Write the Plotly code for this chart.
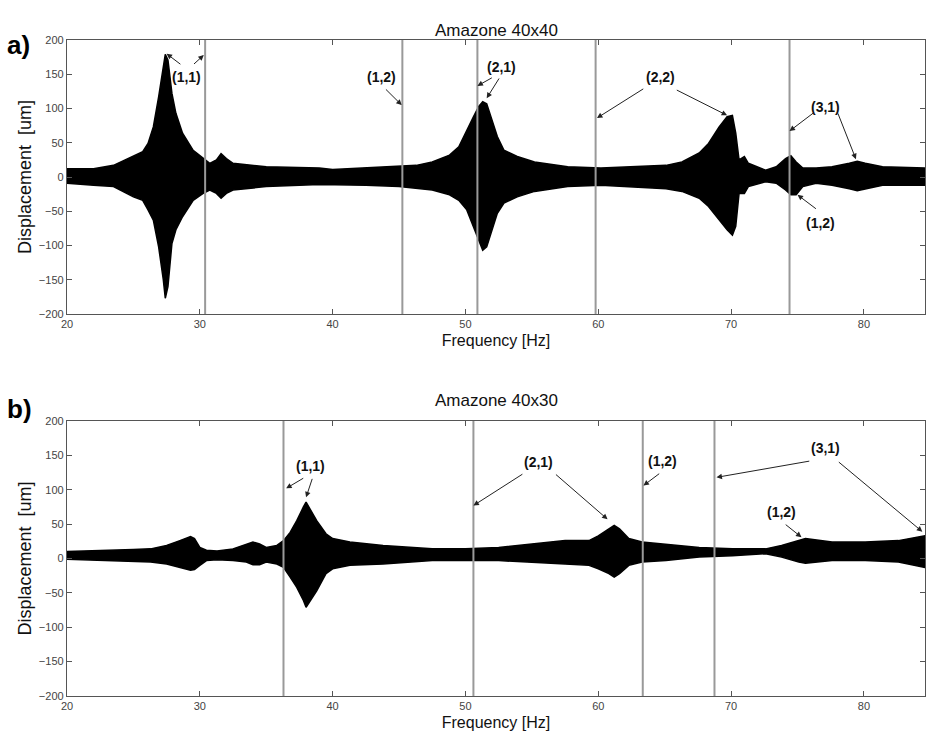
import plotly.graph_objects as go

# ---------------- data ----------------
# Panel a) Amazone 40x40 : envelope of the response (upper / lower), um
freq_a = [20.0, 22.0, 23.5, 25.0, 25.7, 26.1, 26.5, 26.9, 27.25, 27.4, 27.6, 27.9, 28.2, 28.7,
          29.5, 30.25, 30.75, 31.25, 31.6, 32.0, 32.5, 35.0, 39.0, 40.0, 42.5, 45.0, 46.3, 47.5,
          48.8, 49.5, 50.1, 50.6, 51.0, 51.3, 51.6, 52.0, 52.4, 52.9, 53.9, 55.2, 57.7, 60.2,
          62.6, 65.1, 66.3, 67.6, 68.3, 69.1, 69.7, 70.1, 70.35, 70.6, 71.0, 71.3, 72.6, 73.4,
          74.1, 74.5, 74.9, 75.4, 76.4, 77.6, 78.9, 79.5, 80.1, 81.4, 84.6]
upper_a = [12, 12, 17, 30, 37, 49, 73, 117, 161, 179, 171, 122, 93, 64,
           39, 27, 20, 25, 34, 27, 20, 15, 13, 11, 13, 15, 17, 22,
           32, 44, 69, 88, 103, 110, 107, 83, 59, 39, 30, 22, 15, 13,
           15, 17, 22, 35, 49, 73, 88, 90, 64, 25, 30, 20, 10, 15,
           27, 31, 22, 13, 13, 15, 20, 23, 20, 15, 13]
lower_a = [-9, -12, -14, -29, -34, -48, -63, -102, -150, -177, -160, -97, -77, -58,
           -34, -24, -19, -24, -31, -24, -19, -14, -11, -12, -12, -14, -17, -19,
           -26, -34, -48, -72, -92, -107, -102, -77, -53, -38, -29, -21, -14, -12,
           -14, -17, -21, -31, -43, -63, -77, -85, -72, -24, -24, -14, -7, -9,
           -19, -26, -26, -14, -9, -12, -17, -20, -17, -12, -12]

# Panel b) Amazone 40x30
freq_b = [20.0, 22.5, 25.0, 26.3, 27.5, 28.5, 29.3, 29.6, 30.0, 30.5, 31.3, 32.5, 33.5, 34.0,
          34.5, 35.0, 35.8, 36.3, 36.8, 37.3, 37.8, 38.0, 38.8, 39.5, 40.0, 41.3, 43.8, 47.5,
          50.0, 52.5, 55.0, 57.5, 59.3, 60.0, 60.8, 61.2, 61.6, 62.3, 63.3, 65.1, 67.6, 70.1,
          72.6, 73.8, 75.1, 75.6, 77.6, 80.1, 82.6, 84.6]
upper_b = [10, 11, 13, 14, 19, 26, 32, 29, 16, 12, 11, 14, 21, 24,
           21, 16, 19, 26, 38, 55, 75, 82, 55, 36, 29, 24, 19, 14,
           14, 16, 21, 26, 26, 33, 43, 48, 43, 29, 24, 21, 16, 14,
           14, 19, 26, 29, 24, 24, 26, 33]
lower_b = [-1, -3, -4, -5, -8, -13, -17, -16, -10, -3, -2, -3, -5, -9,
           -9, -5, -8, -13, -27, -42, -61, -71, -47, -22, -15, -10, -8, -3,
           -3, -3, -5, -8, -10, -15, -22, -27, -22, -10, -5, -3, 2, 4,
           7, 2, -5, -7, -3, -3, -5, -13]

# Gray vertical reference lines (Hz)
vlines_a = [30.4, 45.25, 50.9, 59.8, 74.4]
vlines_b = [36.3, 50.6, 63.35, 68.75]

# Annotations: label, text position (Hz, um), list of arrows (tail Hz, tail um, head Hz, head um)
labels_a = [
    ("(1,1)", 29.0, 146, [(28.65, 163, 27.5, 180), (29.45, 163, 30.3, 178)]),
    ("(1,2)", 43.7, 146, [(43.9, 130, 45.2, 105)]),
    ("(2,1)", 52.7, 161, [(52.1, 146, 50.9, 133), (52.6, 146, 51.6, 115)]),
    ("(2,2)", 64.7, 146, [(63.5, 130, 59.9, 86), (65.8, 128, 69.7, 90)]),
    ("(3,1)", 77.1, 102, [(76.3, 95, 74.4, 67), (78.0, 95, 79.4, 26)]),
    ("(1,2)", 76.7, -67, [(76.5, -48, 75.0, -26)]),
]
labels_b = [
    ("(1,1)", 38.3, 135, [(37.9, 118, 36.5, 102), (38.5, 118, 38.0, 89)]),
    ("(2,1)", 55.5, 141, [(54.4, 124, 50.6, 77), (56.7, 124, 60.7, 57)]),
    ("(1,2)", 64.8, 142, [(64.7, 125, 63.4, 106)]),
    ("(3,1)", 77.1, 161, [(76.0, 142, 68.9, 118), (78.0, 142, 84.4, 39)]),
    ("(1,2)", 73.8, 67, [(74.0, 51, 75.3, 31)]),
]

titles = ["Amazone 40x40", "Amazone 40x30"]
panel_tags = ["a)", "b)"]
x_range = [20, 84.6]
y_range = [-200, 200]
x_ticks = [20, 30, 40, 50, 60, 70, 80]
y_ticks = [-200, -150, -100, -50, 0, 50, 100, 150, 200]

# ---------------- figure ----------------
W, H = 926, 732
fig = go.Figure()

domains_y = [[1 - 314 / H, 1 - 40 / H], [1 - 696 / H, 1 - 421 / H]]
x_dom = [67 / W, 925 / W]

panels = [(freq_a, upper_a, lower_a, vlines_a, labels_a),
          (freq_b, upper_b, lower_b, vlines_b, labels_b)]

FONT = "Liberation Sans, Arial, sans-serif"
axis_common = dict(showgrid=False, zeroline=False, showline=True, linecolor="#555555",
                   linewidth=1.3, mirror="ticks", ticks="inside", ticklen=5,
                   tickcolor="#555555", automargin=False,
                   tickfont=dict(family=FONT, size=11, color="#444444"))

for i, (fr, up, lo, vl, labs) in enumerate(panels):
    xa = "x" if i == 0 else "x2"
    ya = "y" if i == 0 else "y2"
    # filled envelope
    fig.add_trace(go.Scatter(x=fr + fr[::-1], y=up + lo[::-1], fill="toself",
                             fillcolor="black", mode="lines",
                             line=dict(color="black", width=1.5),
                             xaxis=xa, yaxis=ya, showlegend=False, hoverinfo="skip"))
    # vertical gray lines (above the fill)
    for v in vl:
        fig.add_trace(go.Scatter(x=[v, v], y=y_range, mode="lines",
                                 line=dict(color="#999999", width=2),
                                 xaxis=xa, yaxis=ya, showlegend=False, hoverinfo="skip"))
    # labels and arrows
    for (txt, tx, ty, arrows) in labs:
        fig.add_annotation(x=tx, y=ty, xref=xa, yref=ya, text="<b>%s</b>" % txt,
                           showarrow=False, font=dict(family=FONT, size=14, color="#111111"))
        for (ax_, ay_, hx, hy) in arrows:
            fig.add_annotation(x=hx, y=hy, ax=ax_, ay=ay_, xref=xa, yref=ya,
                               axref=xa, ayref=ya, text="", showarrow=True,
                               arrowhead=2, arrowsize=1.1, arrowwidth=1,
                               arrowcolor="#222222")

    # titles
    top_px = 40 if i == 0 else 421
    fig.add_annotation(x=(x_dom[0] + x_dom[1]) / 2, y=1 - (top_px - 21) / H,
                       xref="paper", yref="paper", text=titles[i], showarrow=False,
                       font=dict(family=FONT, size=17, color="#111111"))
    fig.add_annotation(x=5 / W, y=1 - (top_px - 12) / H, xref="paper", yref="paper",
                       text="<b>%s</b>" % panel_tags[i], showarrow=False, xanchor="left",
                       font=dict(family=FONT, size=26, color="black"))

xt = dict(text="Frequency [Hz]", font=dict(family=FONT, size=16, color="#111111"), standoff=5)
yt = dict(text="Displacement  [um]", font=dict(family=FONT, size=18, color="#111111"), standoff=2)

fig.update_layout(
    width=W, height=H, margin=dict(l=0, r=0, t=0, b=0),
    paper_bgcolor="white", plot_bgcolor="white", showlegend=False,
    xaxis=dict(domain=x_dom, range=x_range, tickvals=x_ticks, anchor="y", title=xt, **axis_common),
    yaxis=dict(domain=domains_y[0], range=y_range, tickvals=y_ticks, anchor="x", title=yt, **axis_common),
    xaxis2=dict(domain=x_dom, range=x_range, tickvals=x_ticks, anchor="y2", title=xt, **axis_common),
    yaxis2=dict(domain=domains_y[1], range=y_range, tickvals=y_ticks, anchor="x2", title=yt, **axis_common),
)

fig.write_html("out.html", config={"displayModeBar": False},
               post_script="document.body.style.margin='0';document.body.style.overflow='hidden';")
